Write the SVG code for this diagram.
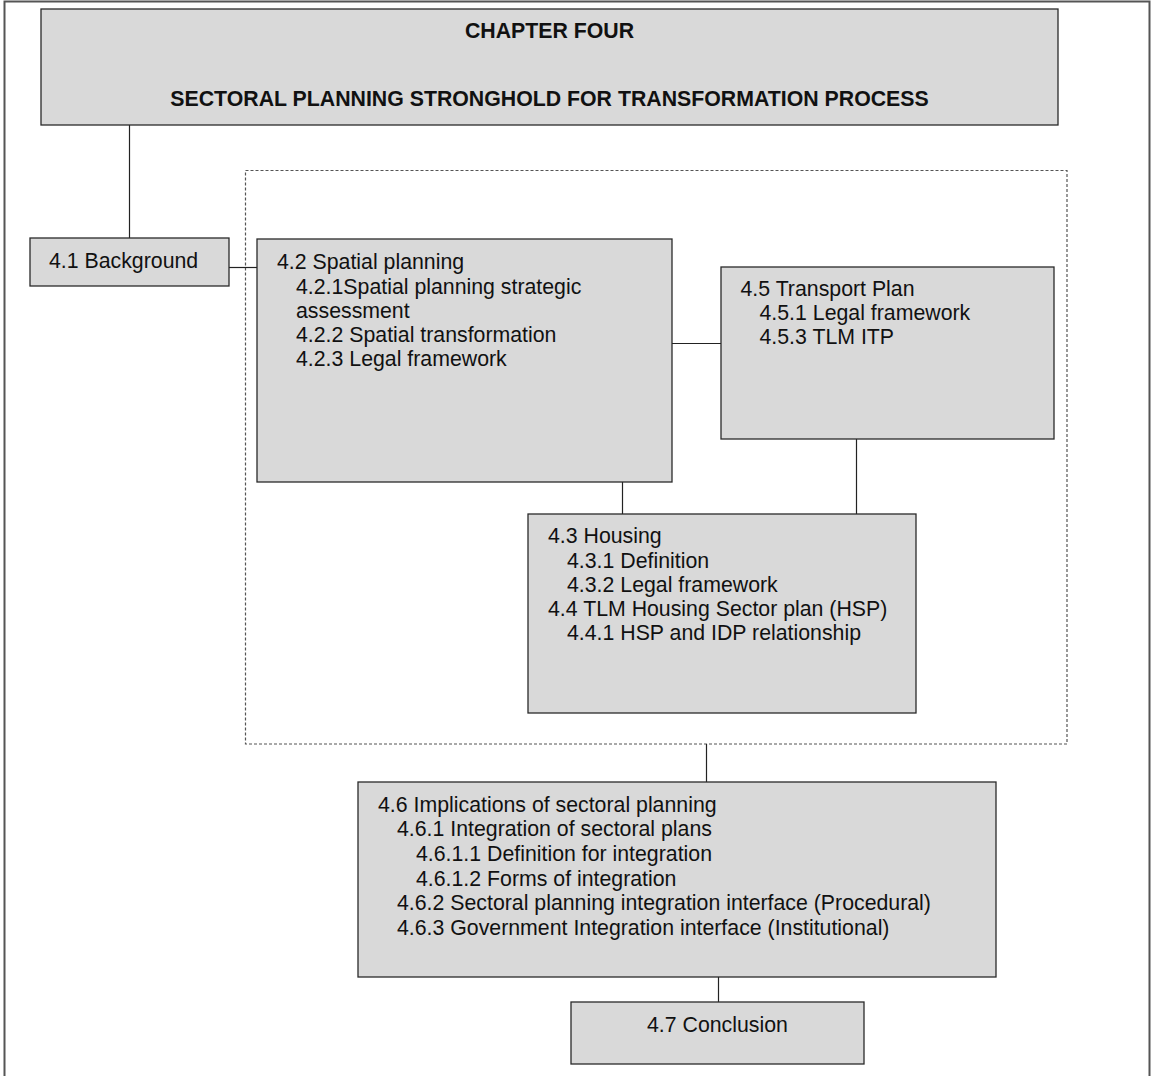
<svg xmlns="http://www.w3.org/2000/svg" width="1154" height="1076" viewBox="0 0 1154 1076">
  <style>
    .box { fill: #d9d9d9; stroke: #2a2a2a; stroke-width: 1.3; }
    .t { font-family: "Liberation Sans", Arial, sans-serif; font-size: 21.3px; fill: #111; }
    .b { font-weight: bold; }
    .link { stroke: #222; stroke-width: 1.2; fill: none; }
  </style>
  <rect width="1154" height="1076" fill="#ffffff"/>
  <!-- page frame -->
  <path d="M4.5 1076 V1.5 H1149.5 V1076" fill="none" stroke="#555" stroke-width="2"/>
  <!-- dashed grouping of the sector plans -->
  <rect x="245.5" y="170.5" width="821.5" height="573.5" fill="none" stroke="#555" stroke-width="1.2" stroke-dasharray="3 2"/>

  <g id="connectors">
    <line class="link" x1="129.5" y1="125" x2="129.5" y2="238"/>
    <line class="link" x1="229" y1="267.5" x2="257" y2="267.5"/>
    <line class="link" x1="672" y1="343.5" x2="721" y2="343.5"/>
    <line class="link" x1="622.5" y1="482" x2="622.5" y2="514"/>
    <line class="link" x1="856.5" y1="439" x2="856.5" y2="514"/>
    <line class="link" x1="706.5" y1="744" x2="706.5" y2="782"/>
    <line class="link" x1="718.5" y1="977" x2="718.5" y2="1002"/>
  </g>

  <g id="chapter">
    <rect class="box" x="41" y="9" width="1017" height="116"/>
    <text class="t b" x="549.5" y="38" text-anchor="middle">CHAPTER FOUR</text>
    <text class="t b" x="549.5" y="106" text-anchor="middle">SECTORAL PLANNING STRONGHOLD FOR TRANSFORMATION PROCESS</text>
  </g>

  <g id="background">
    <rect class="box" x="30" y="238" width="199" height="48"/>
    <text class="t" x="49" y="268">4.1 Background</text>
  </g>

  <g id="spatial">
    <rect class="box" x="257" y="239" width="415" height="243"/>
    <text class="t" x="277" y="269.3">4.2 Spatial planning</text>
    <text class="t" x="296" y="293.5">4.2.1Spatial planning strategic</text>
    <text class="t" x="296" y="317.7">assessment</text>
    <text class="t" x="296" y="341.9">4.2.2 Spatial transformation</text>
    <text class="t" x="296" y="366.1">4.2.3 Legal framework</text>
  </g>

  <g id="transport">
    <rect class="box" x="721" y="267" width="333" height="172"/>
    <text class="t" x="740.5" y="295.5">4.5 Transport Plan</text>
    <text class="t" x="759.5" y="320">4.5.1 Legal framework</text>
    <text class="t" x="759.5" y="344">4.5.3 TLM ITP</text>
  </g>

  <g id="housing">
    <rect class="box" x="528" y="514" width="388" height="199"/>
    <text class="t" x="548" y="543.3">4.3 Housing</text>
    <text class="t" x="567" y="567.5">4.3.1 Definition</text>
    <text class="t" x="567" y="591.7">4.3.2 Legal framework</text>
    <text class="t" x="548" y="615.9">4.4 TLM Housing Sector plan (HSP)</text>
    <text class="t" x="567" y="640.1">4.4.1 HSP and IDP relationship</text>
  </g>

  <g id="implications">
    <rect class="box" x="358" y="782" width="638" height="195"/>
    <text class="t" x="378" y="811.7">4.6 Implications of sectoral planning</text>
    <text class="t" x="397" y="836.3">4.6.1 Integration of sectoral plans</text>
    <text class="t" x="416" y="860.9">4.6.1.1 Definition for integration</text>
    <text class="t" x="416" y="885.5">4.6.1.2 Forms of integration</text>
    <text class="t" x="397" y="910.1">4.6.2 Sectoral planning integration interface (Procedural)</text>
    <text class="t" x="397" y="934.7">4.6.3 Government Integration interface (Institutional)</text>
  </g>

  <g id="conclusion">
    <rect class="box" x="571" y="1002" width="293" height="62"/>
    <text class="t" x="647" y="1031.7">4.7 Conclusion</text>
  </g>
</svg>
